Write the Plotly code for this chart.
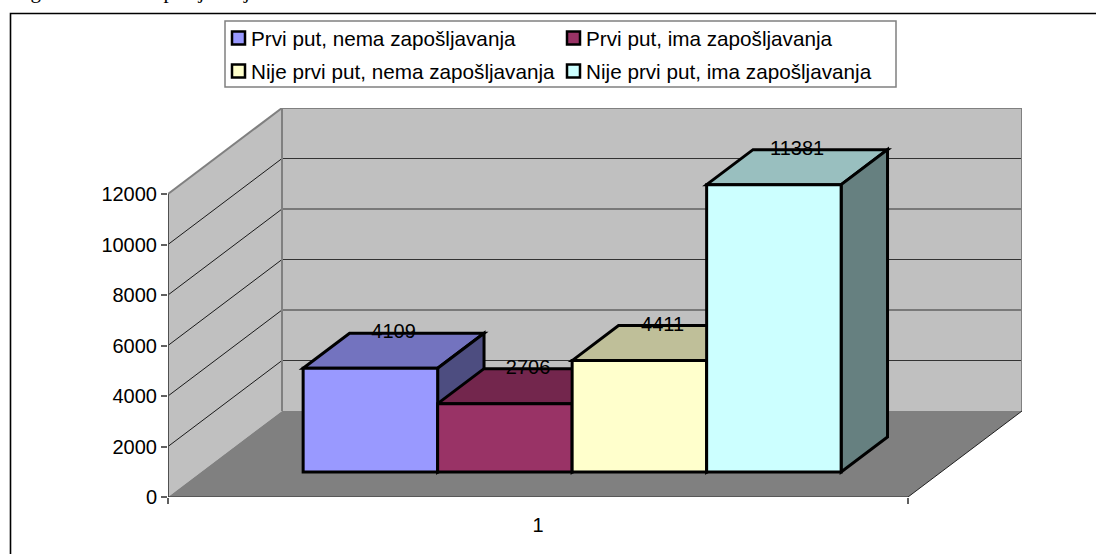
import plotly.graph_objects as go

# ---------- data ----------
categories = ["1"]
series_names = ["Prvi put, nema zapošljavanja", "Prvi put, ima zapošljavanja",
                "Nije prvi put, nema zapošljavanja", "Nije prvi put, ima zapošljavanja"]
series_values = [4109, 2706, 4411, 11381]
front_colors = ["#9999FF", "#993366", "#FFFFCC", "#CCFFFF"]
top_colors = ["#7373BF", "#73264D", "#BFBF99", "#99BFBF"]
side_colors = ["#4D4D80", "#4D1A33", "#808066", "#668080"]
y_ticks = [0, 2000, 4000, 6000, 8000, 10000, 12000]
caption = "Figura 3.1.1.1. Zapošljavanje"

# ---------- layout constants (pixels of the 1096x554 page) ----------
W, H = 1096, 554
PX_L, PX_R, PX_B, PX_T = 168, 1022, 497, 108   # plot area
PX_PER_X = 740.0        # one category spans 740 px
PX_PER_Y = 303.0 / 12000
X0 = 0.5
x_max = X0 + (PX_R - PX_L) / PX_PER_X
y_max = (PX_B - PX_T) / PX_PER_Y
FULL_DX = 114 / PX_PER_X     # whole chart depth in data units
FULL_DY = 86 / PX_PER_Y
BAR_D0, BAR_D1 = 25 / 86, 60 / 86  # bar depth slots in chart depth
N = len(series_values)
BAR_W = 134.5 / PX_PER_X
BAR_START = X0 + 102 / PX_PER_X
EDGE = 3


def px(v):
    return (v - PX_L) / (PX_R - PX_L)


def py(v):
    return (PX_B - v) / (PX_B - PX_T)


def proj(x, v, d):
    """Oblique projection: depth d in [0,1] moves up and to the right."""
    return x + d * FULL_DX, v + d * FULL_DY


def path(points):
    return "M " + " L ".join(f"{a:.5f},{b:.3f}" for a, b in points) + " Z"


shapes = []
annotations = []


def poly(points, fill, line="rgba(0,0,0,0)", width=0):
    shapes.append(dict(type="path", path=path(points), xref="x", yref="y", layer="below",
                       fillcolor=fill, line=dict(color=line, width=width)))


def seg(a, b, color, width):
    shapes.append(dict(type="line", xref="x", yref="y", layer="below",
                       x0=a[0], y0=a[1], x1=b[0], y1=b[1], line=dict(color=color, width=width)))


x_front_r = X0 + 1.0
y_top = y_ticks[-1]
# walls and floor
poly([proj(X0, 0, 0), proj(X0, y_top, 0), proj(X0, y_top, 1), proj(X0, 0, 1)], "#C0C0C0")
poly([proj(X0, 0, 1), proj(X0, y_top, 1), proj(x_front_r, y_top, 1), proj(x_front_r, 0, 1)], "#C0C0C0")
poly([proj(X0, 0, 0), proj(X0, 0, 1), proj(x_front_r, 0, 1), proj(x_front_r, 0, 0)], "#808080")
# gridlines
for t in y_ticks[1:-1]:
    seg(proj(X0, t, 0), proj(X0, t, 1), "#1a1a1a", 1)
    seg(proj(X0, t, 1), proj(x_front_r, t, 1), "#333333", 1)
# wall edges
seg(proj(X0, y_top, 0), proj(X0, y_top, 1), "#808080", 2)
seg(proj(X0, y_top, 1), proj(x_front_r, y_top, 1), "#808080", 2)
seg(proj(X0, 0, 1), proj(X0, y_top, 1), "#808080", 2)
seg(proj(x_front_r, 0, 1), proj(x_front_r, y_top, 1), "#808080", 2)
# axes
seg(proj(X0, 0, 0), proj(X0, y_top, 0), "#505050", 2)
seg(proj(X0, 0, 0), proj(x_front_r, 0, 0), "#303030", 1)
seg(proj(x_front_r, 0, 0), proj(x_front_r, 0, 1), "#202020", 1)

# bar top and side faces, painted left to right; fronts come from the bar traces
bar_left = [BAR_START + i * BAR_W for i in range(N)]
for i, v in enumerate(series_values):
    l, r = bar_left[i], bar_left[i] + BAR_W
    poly([proj(l, v, BAR_D0), proj(l, v, BAR_D1), proj(r, v, BAR_D1), proj(r, v, BAR_D0)],
         top_colors[i], "#000000", EDGE)
    poly([proj(r, 0, BAR_D0), proj(r, v, BAR_D0), proj(r, v, BAR_D1), proj(r, 0, BAR_D1)],
         side_colors[i], "#000000", EDGE)

# outer frame around the chart (open on the right and the bottom)
shapes.append(dict(type="path", xref="paper", yref="paper", layer="below",
                   path=f"M {px(10.5)},{py(600)} L {px(10.5)},{py(13.5)} L {px(1200)},{py(13.5)}",
                   line=dict(color="#000000", width=1.6)))

# legend box: swatches and labels laid out as in the reference
shapes.append(dict(type="rect", xref="paper", yref="paper", layer="above",
                   x0=px(225), x1=px(896), y0=py(87), y1=py(21),
                   fillcolor="#FFFFFF", line=dict(color="#808080", width=1.5)))
legend_cols = [231, 566]
legend_rows = [38, 71]
for i, name in enumerate(series_names):
    cx = legend_cols[i % 2]
    cy = legend_rows[i // 2]
    shapes.append(dict(type="rect", xref="paper", yref="paper", layer="above",
                       x0=px(cx + 1), x1=px(cx + 14), y0=py(cy + 6.5), y1=py(cy - 6.5),
                       fillcolor=front_colors[i], line=dict(color="#000000", width=2.5)))
    annotations.append(dict(xref="paper", yref="paper", x=px(cx + 19.5), y=py(cy), text=name,
                            showarrow=False, xanchor="left", yanchor="middle", align="left",
                            xshift=0, borderpad=0, borderwidth=0,
                            font=dict(family="Liberation Sans", size=20.7, color="#000000")))

# caption line of the page, cut off by the top edge as in the reference
annotations.append(dict(xref="paper", yref="paper", x=px(12), y=py(4), text=caption,
                        showarrow=False, xanchor="left", yanchor="bottom", borderpad=0,
                        font=dict(family="Liberation Serif", size=21, color="#000000")))

fig = go.Figure()
base_val = BAR_D0 * FULL_DY
dx_base = BAR_D0 * FULL_DX
for i, v in enumerate(series_values):
    fig.add_trace(go.Bar(
        x=[bar_left[i] + dx_base + BAR_W / 2], y=[v], base=[base_val], width=[BAR_W],
        name=series_names[i], showlegend=False,
        marker=dict(color=front_colors[i], line=dict(color="#000000", width=EDGE)),
        hoverinfo="name+y",
    ))

# data labels: centred on the top face in x, on its back edge in y
lx, ly = [], []
for i, v in enumerate(series_values):
    a, _ = proj(bar_left[i] + BAR_W / 2, v, (BAR_D0 + BAR_D1) / 2)
    _, b = proj(bar_left[i] + BAR_W / 2, v, BAR_D1)
    lx.append(a)
    ly.append(b)
fig.add_trace(go.Scatter(x=lx, y=ly, mode="text", text=[str(v) for v in series_values],
                         textposition="middle center",
                         textfont=dict(family="Liberation Sans", size=20, color="#000000"),
                         showlegend=False, hoverinfo="skip", cliponaxis=False))

fig.update_layout(
    width=W, height=H, autosize=False, barmode="overlay",
    paper_bgcolor="#FFFFFF", plot_bgcolor="rgba(0,0,0,0)",
    margin=dict(l=PX_L, r=W - PX_R, t=PX_T, b=H - PX_B, pad=0),
    font=dict(family="Liberation Sans", size=20, color="#000000"),
    shapes=shapes,
    annotations=annotations,
    showlegend=False,
    xaxis=dict(range=[X0, x_max], tickmode="array", tickvals=[1], ticktext=categories,
               ticks="", showgrid=False, zeroline=False, showline=False,
               tickfont=dict(size=20), ticklabelstandoff=14,
               minor=dict(tickmode="array", tickvals=[X0, x_front_r], ticks="outside",
                          ticklen=6, tickcolor="#606060", tickwidth=2, showgrid=False)),
    yaxis=dict(range=[0, y_max], tickmode="array", tickvals=y_ticks,
               ticktext=[str(t) for t in y_ticks], ticks="outside", ticklen=6,
               tickcolor="#606060", tickwidth=1.5, showgrid=False, zeroline=False,
               showline=False, tickfont=dict(size=20)),
)

fig.write_html("out.html", config={"displayModeBar": False},
               post_script="document.body.style.margin='0';")
